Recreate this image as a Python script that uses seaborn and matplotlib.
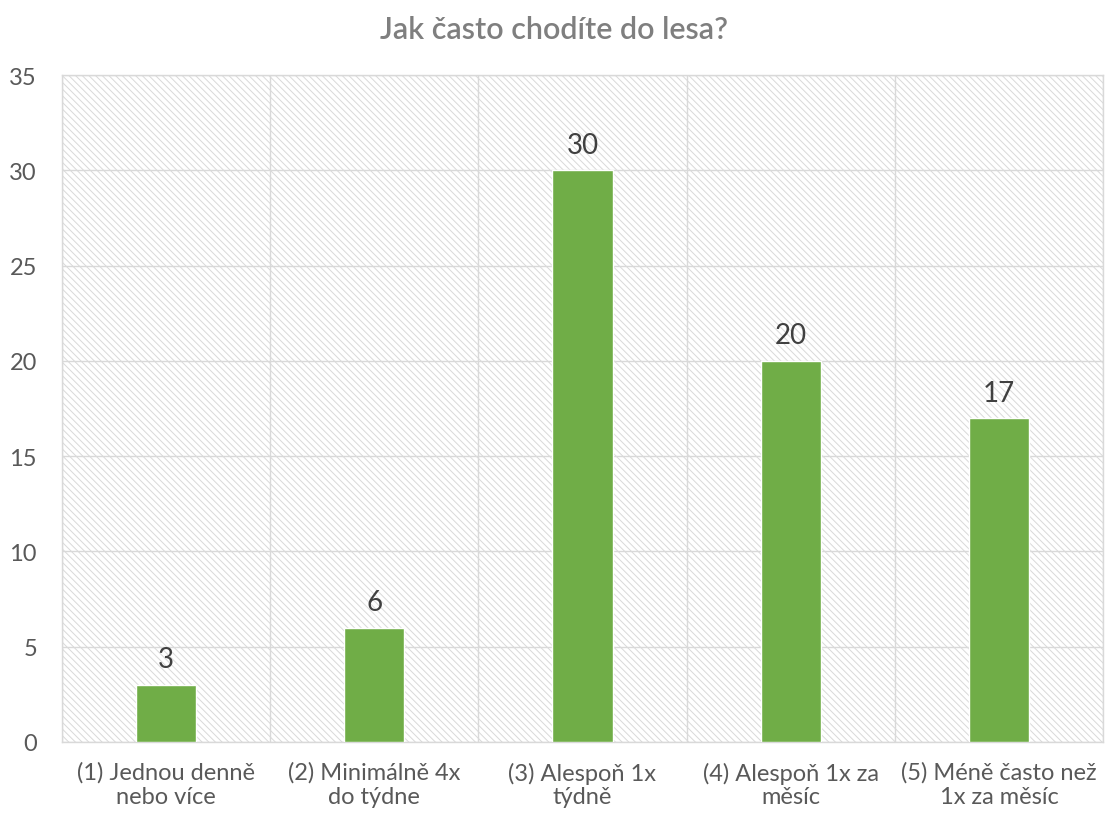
import matplotlib
matplotlib.use("Agg")
import matplotlib.pyplot as plt
import seaborn as sns
import pandas as pd
import numpy as np
from matplotlib.patches import Rectangle
from matplotlib.ticker import FixedLocator

categories = ["(1) Jednou denně\nnebo více", "(2) Minimálně 4x\ndo týdne", "(3) Alespoň 1x\ntýdně",
              "(4) Alespoň 1x za\nměsíc", "(5) Méně často než\n1x za měsíc"]
values = [3, 6, 30, 20, 17]
title = "Jak často chodíte do lesa?"

sns.set_theme(style="white")
plt.rcParams['font.family'] = ['Lato', 'DejaVu Sans']
plt.rcParams['hatch.color'] = '#d9d9d9'
plt.rcParams['hatch.linewidth'] = 0.7

df = pd.DataFrame({"cat": categories, "val": values})

fig = plt.figure(figsize=(11.07, 8.2), dpi=100)
ax = fig.add_axes([62/1107, 1-743/820, (1103-62)/1107, (743-76)/820])

# hatched background
bg = Rectangle((0, 0), 1, 1, transform=ax.transAxes, facecolor='white',
               edgecolor='#d9d9d9', hatch='\\\\\\\\\\', linewidth=0, zorder=0)
ax.add_patch(bg)

sns.barplot(data=df, x="cat", y="val", color="#70ad47", width=0.29, ax=ax,
            saturation=1, zorder=3)

ax.set_ylim(0, 35)
ax.set_xlim(-0.5, len(categories) - 0.5)
ax.set_yticks(np.arange(0, 36, 5))
ax.yaxis.grid(True, color='#d9d9d9', linewidth=1, zorder=1)
ax.xaxis.set_minor_locator(FixedLocator(np.arange(-0.5, len(categories), 1.0)))
ax.xaxis.grid(True, which='minor', color='#d9d9d9', linewidth=1, zorder=1)
ax.xaxis.grid(False, which='major')
ax.set_axisbelow(True)

for s in ax.spines.values():
    s.set_color('#d9d9d9')
    s.set_linewidth(1)

ax.tick_params(axis='x', which='major', length=0, labelsize=17, labelcolor='#595959', pad=14)
ax.tick_params(axis='x', which='minor', length=8, color='#d9d9d9', width=1)
ax.tick_params(axis='y', length=0, labelsize=17, labelcolor='#595959', pad=18)
for lbl in ax.get_xticklabels():
    lbl.set_linespacing(1.15)
ax.set_xlabel("")
ax.set_ylabel("")

for c in ax.containers:
    ax.bar_label(c, fmt="%d", padding=9, fontsize=20, color='#404040')

fig.text(0.5, 1 - 30/820, title, ha='center', va='center', fontsize=22,
         color='#7f7f7f', fontweight='semibold')

fig.savefig("out.png", dpi=100)
